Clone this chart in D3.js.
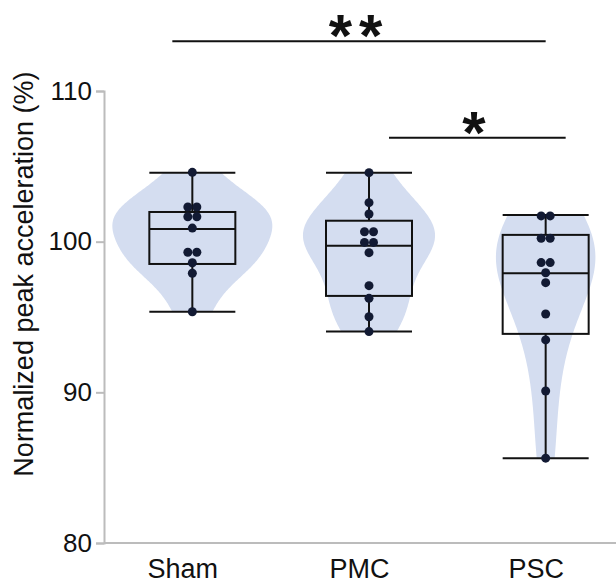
<!DOCTYPE html>
<html>
<head>
<meta charset="utf-8">
<script src="https://cdn.jsdelivr.net/npm/d3@7"></script>
<style>
  body { margin: 0; background: #fff; }
  text { font-family: "Liberation Sans", Arial, sans-serif; }
</style>
</head>
<body>
<div id="violin-plot"></div>
<script>
// Datos
const grupos = ['Sham', 'PMC', 'PSC'];

const valoresSham = [104.6, 102.3, 102.3, 101.65, 101.65, 100.9, 99.3, 99.3, 98.6, 97.9, 95.35];
const valoresPMC = [104.58, 102.59, 101.84, 100.66, 100.66, 99.95, 99.95, 99.27, 97.08, 96.24, 95.02, 94.03];
const valoresPSC = [101.71, 101.71, 100.23, 100.23, 98.61, 98.61, 97.94, 97.28, 95.2, 93.48, 90.09, 85.63];

// min, q1, mediana, q3, max
const cajaSham = [95.35, 98.52, 100.84, 101.97, 104.58];
const cajaPMC = [94.03, 96.4, 99.73, 101.39, 104.58];
const cajaPSC = [85.63, 93.88, 97.9, 100.45, 101.77];

const ticksY = [80, 90, 100, 110];

// comparaciones: [grupo a, grupo b, altura (valor), etiqueta]
const comparaciones = [
    ['Sham', 'PSC', 113.3, '**'],
    ['PMC', 'PSC', 106.9, '*']
];

const valores = { Sham: valoresSham, PMC: valoresPMC, PSC: valoresPSC };
const cajas = { Sham: cajaSham, PMC: cajaPMC, PSC: cajaPSC };

// Unidades
const width = 616;
const height = 585;
const margin = { top: 91, right: -18, bottom: 42, left: 104 };

const svg = d3.select('#violin-plot')
    .append('svg')
    .attr('width', width)
    .attr('height', height);

const xScale = d3.scalePoint()
    .domain(grupos)
    .range([margin.left, width - margin.right])
    .padding(0.5);

const yScale = d3.scaleLinear()
    .domain([80, 110])
    .range([height - margin.bottom, margin.top]);

// KDE gaussiano (Scott)
function kde(datos) {
    const n = datos.length;
    const bw = d3.deviation(datos) * Math.pow(n, -1 / 5);
    const [lo, hi] = d3.extent(datos);
    const puntos = d3.range(0, 101).map(i => lo + (hi - lo) * i / 100);
    return puntos.map(v => [v, d3.mean(datos, d => Math.exp(-0.5 * ((v - d) / bw) ** 2)) / (bw * Math.sqrt(2 * Math.PI))]);
}

const densidades = grupos.map(g => kde(valores[g]));
const maxDensidad = d3.max(densidades.flat(), d => d[1]);
const anchoScale = d3.scaleLinear().domain([0, maxDensidad]).range([0, 80]);

// Violines
grupos.forEach((g, i) => {
    const cx = xScale(g);
    const area = d3.area()
        .y(d => yScale(d[0]))
        .x0(d => cx - anchoScale(d[1]))
        .x1(d => cx + anchoScale(d[1]))
        .curve(d3.curveBasis);
    svg.append('path')
        .datum(densidades[i])
        .attr('d', area)
        .attr('fill', '#d4ddf0');
});

// Ejes
const ejeY = svg.append('g')
    .attr('transform', `translate(${margin.left},0)`)
    .call(d3.axisLeft(yScale).tickValues(ticksY).tickSize(8).tickPadding(4));

const ejeX = svg.append('g')
    .attr('transform', `translate(0,${yScale(80)})`)
    .call(d3.axisBottom(xScale).tickSize(0).tickSizeOuter(0).tickPadding(16));

[ejeY, ejeX].forEach(eje => {
    eje.selectAll('path, line').attr('stroke', '#bcbcbc').attr('stroke-width', 2);
    eje.selectAll('text').attr('font-size', 26).attr('fill', '#111');
});
ejeX.select('.domain').attr('d', `M${margin.left},0H${width}`);
ejeX.selectAll('text').attr('font-size', 27).attr('dx', -10);

svg.append('text')
    .attr('transform', `translate(33,${yScale(97.85)}) rotate(-90)`)
    .attr('text-anchor', 'middle')
    .attr('font-size', 27)
    .attr('fill', '#111')
    .text('Normalized peak acceleration (%)');

// Cajas y bigotes
const medioAncho = 43;
grupos.forEach(g => {
    const cx = xScale(g);
    const [mn, q1, med, q3, mx] = cajas[g];
    const grupo = svg.append('g')
        .attr('stroke', '#111')
        .attr('stroke-width', 2)
        .attr('fill', 'none');
    grupo.append('line').attr('x1', cx).attr('x2', cx).attr('y1', yScale(mx)).attr('y2', yScale(q3));
    grupo.append('line').attr('x1', cx).attr('x2', cx).attr('y1', yScale(q1)).attr('y2', yScale(mn));
    [mn, mx, med].forEach(v => grupo.append('line')
        .attr('x1', cx - medioAncho).attr('x2', cx + medioAncho)
        .attr('y1', yScale(v)).attr('y2', yScale(v)));
    grupo.append('rect')
        .attr('x', cx - medioAncho)
        .attr('y', yScale(q3))
        .attr('width', medioAncho * 2)
        .attr('height', yScale(q1) - yScale(q3));
});

// Puntos (valores repetidos se reparten a los lados)
const radio = 4.5;
grupos.forEach(g => {
    const cx = xScale(g);
    const conteo = d3.rollup(valores[g], v => v.length, d => d);
    const vistos = new Map();
    const puntos = valores[g].map(v => {
        const k = conteo.get(v);
        const j = vistos.get(v) || 0;
        vistos.set(v, j + 1);
        return { v, dx: (j - (k - 1) / 2) * radio * 2 };
    });
    svg.append('g')
        .selectAll('circle')
        .data(puntos)
        .join('circle')
        .attr('cx', d => cx + d.dx)
        .attr('cy', d => yScale(d.v))
        .attr('r', radio)
        .attr('fill', '#121a33');
});

// Significancia
const ajustes = { Sham: -20, PMC: 20, PSC: 0 };
comparaciones.forEach(([a, b, h, etiqueta], i) => {
    const x1 = xScale(a) + ajustes[a];
    const x2 = xScale(b) + (i === 1 ? 20 : 0);
    svg.append('line')
        .attr('x1', x1).attr('x2', x2)
        .attr('y1', yScale(h)).attr('y2', yScale(h))
        .attr('stroke', '#111')
        .attr('stroke-width', 2);
    svg.append('text')
        .attr('x', (x1 + x2) / 2)
        .attr('y', yScale(h) + 15)
        .attr('text-anchor', 'middle')
        .attr('font-size', 60)
        .attr('font-weight', 'bold')
        .attr('letter-spacing', 7)
        .attr('fill', '#111')
        .text(etiqueta);
});
</script>
</body>
</html>
